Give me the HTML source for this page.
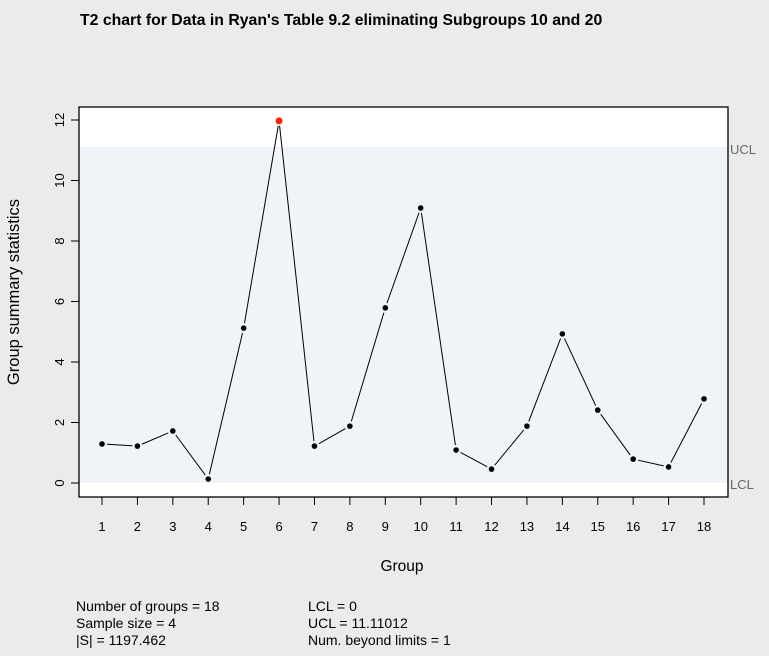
<!DOCTYPE html>
<html><head><meta charset="utf-8"><style>
body{margin:0;background:#ebebeb;font-family:"Liberation Sans",Arial,sans-serif;}
svg{display:block}
</style></head><body>
<svg id="chart" width="769" height="656" xmlns="http://www.w3.org/2000/svg">
<rect width="769" height="656" fill="#ebebeb"/>
<text x="80" y="25" font-size="15.8" font-weight="bold">T2 chart for Data in Ryan's Table 9.2 eliminating Subgroups 10 and 20</text>
<rect x="79" y="107" width="649" height="390" fill="#ffffff"/>
<rect id="band" x="79" width="649" fill="#f0f3f7"/>
<g id="marks"></g>
<rect x="79" y="107" width="649" height="390" fill="none" stroke="#000" stroke-width="1.3"/>
<g id="axes"></g>
<text x="730" y="154" font-size="13" fill="#666">UCL</text>
<text x="730" y="489" font-size="13" fill="#666">LCL</text>
<text x="402" y="571" font-size="15.5" text-anchor="middle">Group</text>
<text transform="translate(19,292) rotate(-90)" font-size="16.5" text-anchor="middle">Group summary statistics</text>
<g font-size="14">
<text x="76" y="611">Number of groups = 18</text>
<text x="76" y="628">Sample size = 4</text>
<text x="76" y="645">|S| = 1197.462</text>
<text x="308" y="611">LCL = 0</text>
<text x="308" y="628">UCL = 11.11012</text>
<text x="308" y="645">Num. beyond limits = 1</text>
</g>
</svg>
<script>
const groups=[1,2,3,4,5,6,7,8,9,10,11,12,13,14,15,16,17,18];
const values=[1.29,1.22,1.72,0.13,5.12,11.97,1.22,1.88,5.79,9.09,1.09,0.46,1.88,4.93,2.41,0.79,0.53,2.78];
const yTicks=[0,2,4,6,8,10,12];
const ucl=11.11012, lcl=0;
const NS='http://www.w3.org/2000/svg';
const xs=g=>102+(g-1)*(704-102)/17;
const ys=v=>483-v*30.25;
function mk(tag,attrs,parent){const e=document.createElementNS(NS,tag);for(const k in attrs)e.setAttribute(k,attrs[k]);parent.appendChild(e);return e;}
const band=document.getElementById('band');
band.setAttribute('y',ys(ucl));band.setAttribute('height',ys(lcl)-ys(ucl));
const marks=document.getElementById('marks'),axes=document.getElementById('axes');
for(let i=0;i<values.length-1;i++){
 const x1=xs(groups[i]),y1=ys(values[i]),x2=xs(groups[i+1]),y2=ys(values[i+1]);
 const dx=x2-x1,dy=y2-y1,L=Math.hypot(dx,dy),g=5;
 if(L>2*g){const l=mk('line',{x1:x1+dx*g/L,y1:y1+dy*g/L,x2:x2-dx*g/L,y2:y2-dy*g/L,stroke:'#000','stroke-width':1},marks);
 
 }
}
values.forEach((v,i)=>{
 const out=v>ucl||v<lcl;
 const c=mk('circle',{cx:xs(groups[i]),cy:ys(v),r:out?3.5:2.8,fill:out?'#ff2200':'#000'},marks);
 
 
});
groups.forEach(g=>{
 const t=mk('line',{x1:xs(g),x2:xs(g),y1:497,y2:505,stroke:'#000'},axes);
 
 
 const l=mk('text',{x:xs(g),y:531,'font-size':13,'text-anchor':'middle'},axes);
 l.textContent=g;
 
 
});
yTicks.forEach(v=>{
 const t=mk('line',{x1:71,x2:79,y1:ys(v),y2:ys(v),stroke:'#000'},axes);
 
 
 const l=mk('text',{transform:`translate(64,${ys(v)}) rotate(-90)`,'font-size':13,'text-anchor':'middle'},axes);
 l.textContent=v;
 
 
});
</script>
</body></html>
